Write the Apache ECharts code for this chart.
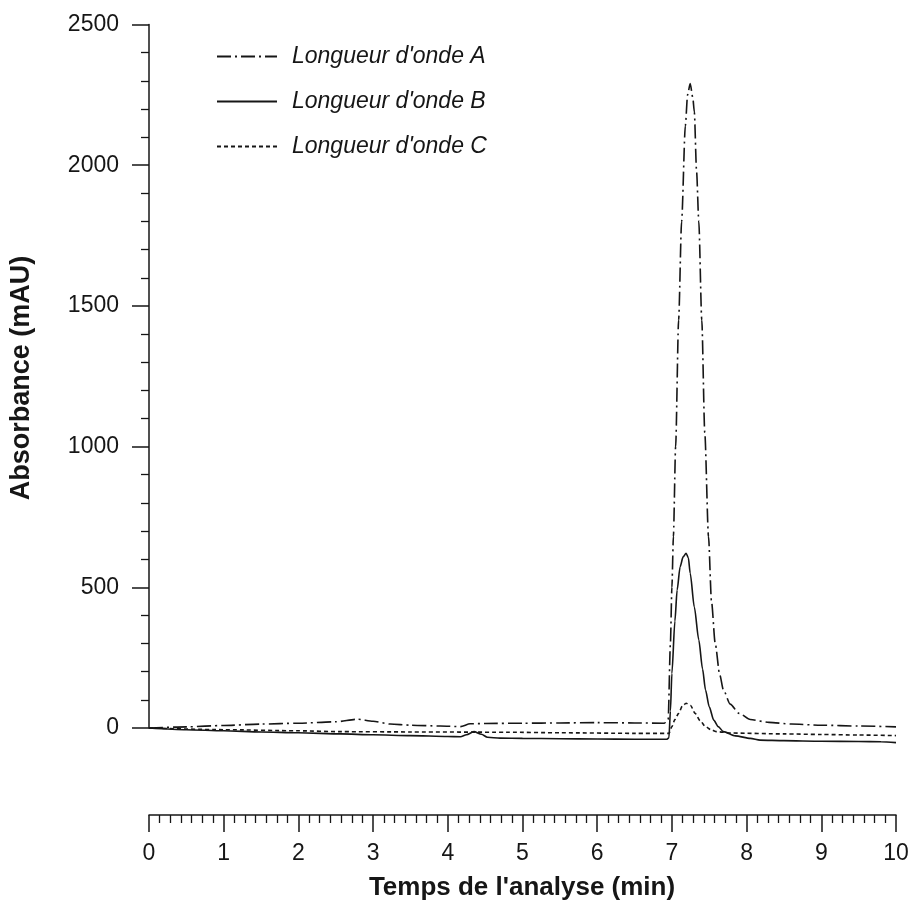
<!DOCTYPE html>
<html>
<head>
<meta charset="utf-8">
<script src="https://cdn.jsdelivr.net/npm/echarts@6/dist/echarts.min.js"></script>
<style>html,body{margin:0;padding:0;background:#fff}#c{width:912px;height:912px}</style>
</head>
<body>
<div id="c"></div>
<script>
// ---- data ----
const seriesNames = ["Longueur d'onde A", "Longueur d'onde B", "Longueur d'onde C"];
const xTitle = "Temps de l'analyse (min)";
const yTitle = "Absorbance (mAU)";

const timeA = [0, 0.5, 1.0, 1.5, 2.0, 2.5, 2.79, 3.0, 3.23, 3.5, 3.9, 4.17, 4.3, 4.5, 5.0, 5.5, 6.0, 6.5, 6.9, 6.95, 6.98, 7.0, 7.02, 7.05, 7.09, 7.13, 7.18, 7.21, 7.245, 7.28, 7.3, 7.33, 7.36, 7.4, 7.44, 7.49, 7.53, 7.58, 7.64, 7.69, 7.78, 7.9, 8.05, 8.3, 8.6, 9.0, 9.5, 10.0];
const absA  = [0, 4, 9, 14, 17, 22, 31, 24, 14, 10, 7, 5, 15, 16, 17, 18, 19, 18, 17, 30, 300, 500, 680, 1000, 1450, 1800, 2140, 2250, 2290, 2240, 2190, 1980, 1800, 1450, 1050, 680, 450, 300, 190, 135, 85, 52, 30, 20, 14, 10, 7, 4];

const timeB = [0, 0.5, 1.0, 1.5, 2.0, 2.57, 3.0, 3.5, 4.0, 4.17, 4.25, 4.35, 4.45, 4.53, 4.7, 5.0, 5.5, 6.0, 6.5, 6.93, 6.96, 6.98, 7.0, 7.04, 7.07, 7.11, 7.15, 7.19, 7.22, 7.245, 7.3, 7.36, 7.41, 7.45, 7.5, 7.56, 7.62, 7.69, 7.85, 8.05, 8.18, 8.5, 9.0, 9.5, 9.8, 10.0];
const absB  = [0, -6, -10, -14, -17, -21, -24, -27, -30, -31, -24, -13, -22, -33, -36, -37, -38, -39, -40, -40, -35, 60, 194, 380, 490, 573, 608, 621, 605, 550, 430, 313, 210, 135, 75, 28, 5, -13, -28, -37, -43, -45, -47, -48, -49, -52];

const timeC = [0, 1.0, 2.0, 2.57, 3.5, 4.8, 5.5, 6.5, 6.96, 7.0, 7.04, 7.09, 7.14, 7.19, 7.25, 7.31, 7.38, 7.45, 7.52, 7.6, 7.8, 8.5, 9.0, 9.5, 10.0];
const absC  = [0, -6, -10, -13, -14, -15, -17, -19, -19, 5, 30, 52, 78, 88, 80, 52, 25, 5, -6, -13, -18, -21, -23, -25, -27];

const xMin = 0, xMax = 10, xStep = 1;
const yMin = 0, yMax = 2500, yStep = 500;

// ---- chart ----
const pair = (t, v) => t.map((x, i) => [x, v[i]]);
const FONT = "'Liberation Sans', Arial, sans-serif";
const INK = '#161616';

const chart = echarts.init(document.getElementById('c'), null, {renderer: 'canvas'});

function lineSeries(name, data, dash) {
  return {
    name, type: 'line', data,
    symbol: 'none', showSymbol: false,
    clip: false,
    smooth: 0.25, smoothMonotone: 'x',
    lineStyle: {color: INK, width: 1.6, type: dash},
    itemStyle: {color: INK},
    emphasis: {disabled: true},
    animation: false
  };
}

chart.setOption({
  backgroundColor: '#ffffff',
  animation: false,
  grid: {left: 149, right: 16, top: 24.5, bottom: 184, containLabel: false},
  legend: {
    orient: 'vertical', left: 211, top: 40,
    itemWidth: 60, itemHeight: 14, itemGap: 22,
    itemStyle: {opacity: 0},
    textStyle: {fontFamily: FONT, fontSize: 23, fontStyle: 'italic', color: INK, padding: [0, 0, 0, 10]},
    data: seriesNames
  },
  xAxis: {
    type: 'value', min: xMin, max: xMax, interval: xStep,
    offset: 87,
    axisLine: {show: true, onZero: false, lineStyle: {color: INK, width: 1.5}},
    axisTick: {show: true, length: 17, lineStyle: {color: INK, width: 1.5}},
    minorTick: {show: true, splitNumber: 7, length: 8, lineStyle: {color: INK, width: 1.3}},
    axisLabel: {margin: 27, fontFamily: FONT, fontSize: 23, color: INK, formatter: v => String(v)},
    splitLine: {show: false}
  },
  yAxis: {
    type: 'value', min: yMin, max: yMax, interval: yStep,
    axisLine: {show: true, lineStyle: {color: INK, width: 1.5}},
    axisTick: {show: true, length: 17, lineStyle: {color: INK, width: 1.5}},
    minorTick: {show: true, splitNumber: 5, length: 8, lineStyle: {color: INK, width: 1.3}},
    axisLabel: {margin: 30, fontFamily: FONT, fontSize: 23, color: INK, formatter: v => String(v)},
    splitLine: {show: false}
  },
  graphic: [
    {type: 'text', x: 522, y: 888,
     style: {text: xTitle, align: 'center', verticalAlign: 'middle',
             font: "bold 26px 'Liberation Sans', Arial, sans-serif", fill: INK}},
    {type: 'text', x: 22, y: 378, rotation: Math.PI / 2,
     style: {text: yTitle, align: 'center', verticalAlign: 'middle',
             font: "bold 27px 'Liberation Sans', Arial, sans-serif", fill: INK}}
  ],
  series: [
    lineSeries(seriesNames[0], pair(timeA, absA), [14, 4, 2, 4]),
    lineSeries(seriesNames[1], pair(timeB, absB), 'solid'),
    lineSeries(seriesNames[2], pair(timeC, absC), [4, 3])
  ]
});
</script>
</body>
</html>
